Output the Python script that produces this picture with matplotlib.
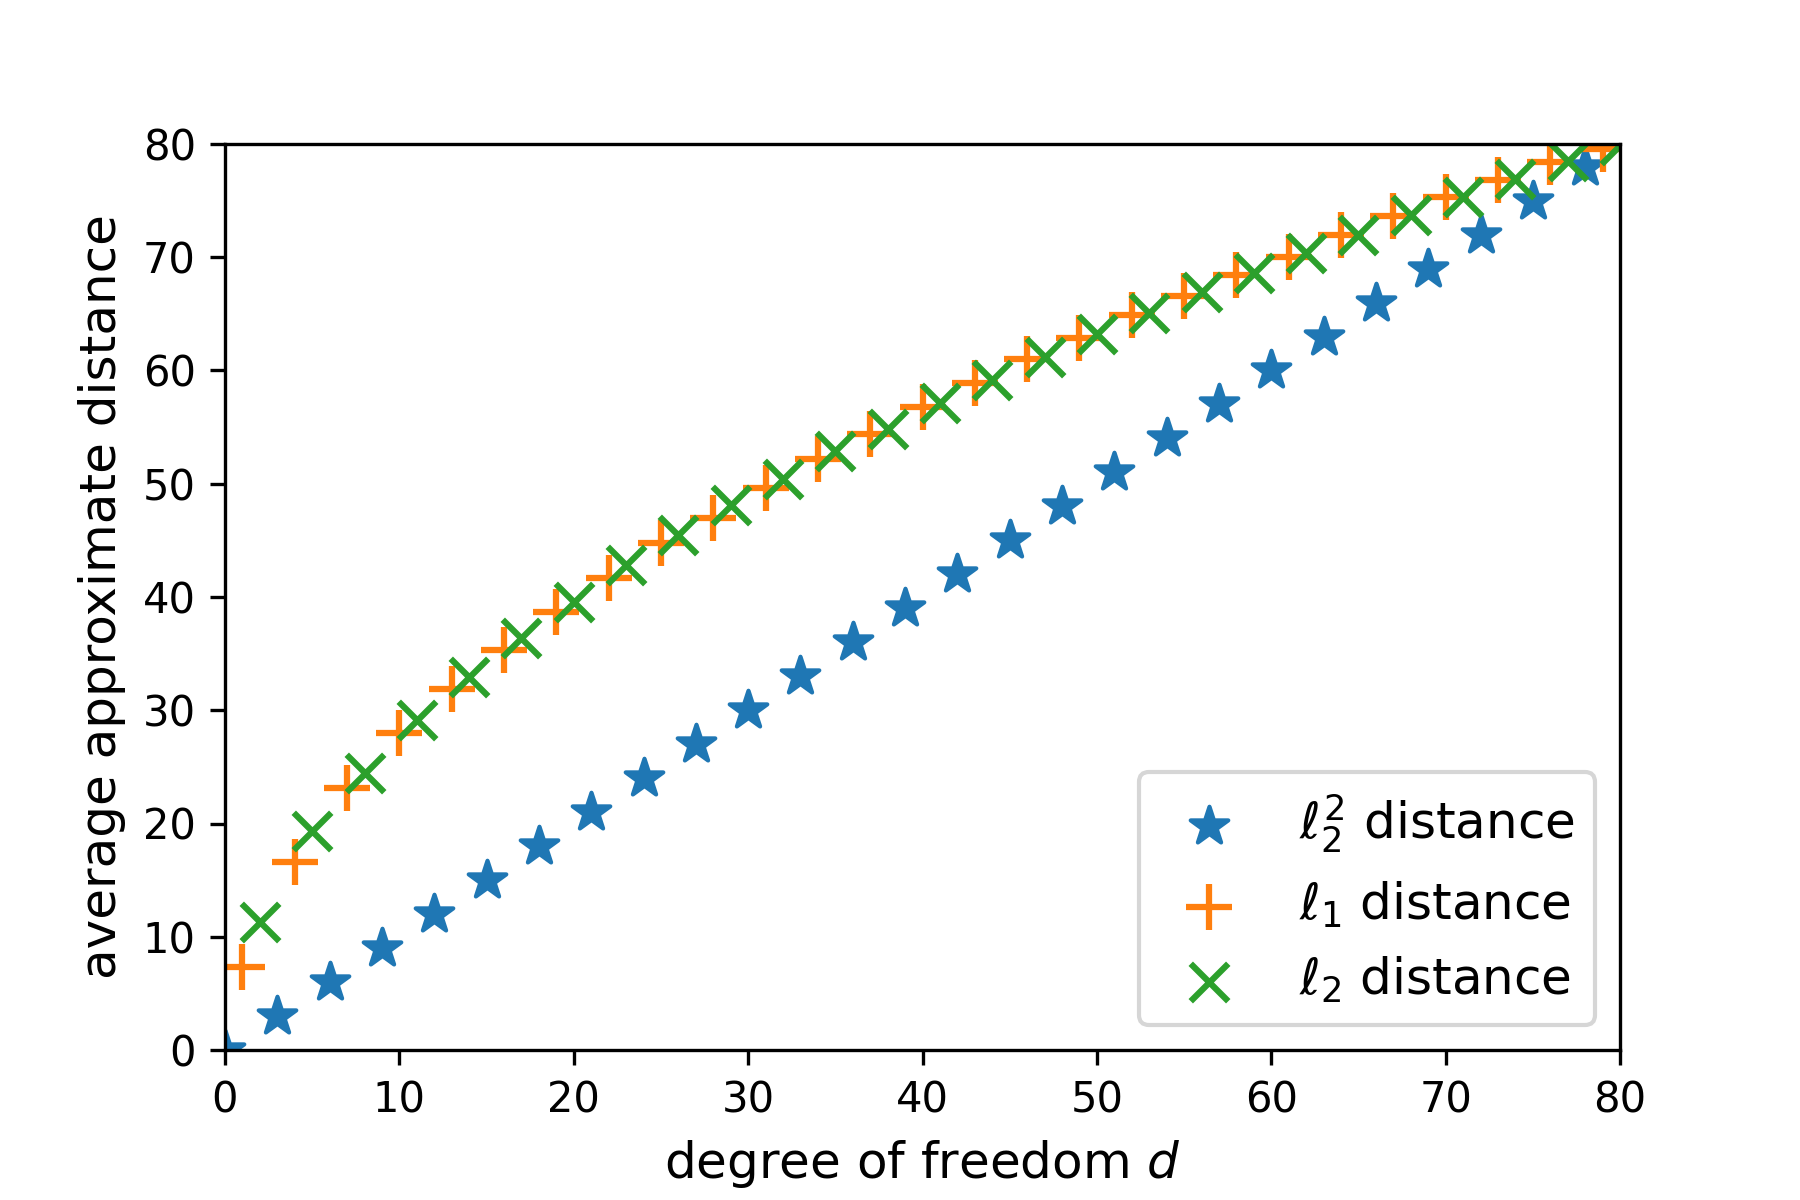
import matplotlib
matplotlib.use("Agg")
import matplotlib.pyplot as plt

# degree of freedom d for each series
d_sq = [0, 3, 6, 9, 12, 15, 18, 21, 24, 27, 30, 33, 36, 39, 42, 45, 48, 51, 54,
        57, 60, 63, 66, 69, 72, 75, 78]
d_l1 = [1, 4, 7, 10, 13, 16, 19, 22, 25, 28, 31, 34, 37, 40, 43, 46, 49, 52, 55,
        58, 61, 64, 67, 70, 73, 76, 79]
d_l2 = [2, 5, 8, 11, 14, 17, 20, 23, 26, 29, 32, 35, 38, 41, 44, 47, 50, 53, 56,
        59, 62, 65, 68, 71, 74, 77, 80]

# average approximate distance
dist_sq = [0, 3, 6, 9, 12, 15, 18, 21, 24, 27, 30, 33, 36, 39, 42, 45, 48, 51, 54,
           57, 60, 63, 66, 69, 72, 75, 78]
dist_l1 = [7.3, 16.6, 23.1, 28.0, 31.9, 35.3, 38.7, 41.7, 44.8, 47.0, 49.6, 52.2,
           54.4, 56.8, 58.9, 61.0, 62.9, 64.9, 66.6, 68.4, 70.0, 72.0, 73.6, 75.3,
           76.8, 78.4, 79.6]
dist_l2 = [11.3, 19.3, 24.5, 29.1, 32.9, 36.4, 39.6, 42.8, 45.5, 48.1, 50.4, 52.9,
           54.8, 57.1, 59.2, 61.2, 63.2, 65.1, 66.9, 68.6, 70.4, 72.0, 73.7, 75.3,
           76.9, 78.5, 79.9]

fig, ax = plt.subplots(figsize=(6, 4), dpi=300)
fig.subplots_adjust(bottom=0.125)

ax.scatter(d_sq, dist_sq, marker="*", s=90, label=r"$\ell_2^2$ distance")
ax.scatter(d_l1, dist_l1, marker="+", s=121, label=r"$\ell_1$ distance")
ax.scatter(d_l2, dist_l2, marker="x", s=81, label=r"$\ell_2$ distance")

ax.set_xlim(0, 80)
ax.set_ylim(0, 80)
ax.set_xlabel(r"degree of freedom $d$", fontsize=12)
ax.set_ylabel("average approximate distance", fontsize=12)
ax.legend(loc="lower right", fontsize=12)

fig.savefig("out.png")
